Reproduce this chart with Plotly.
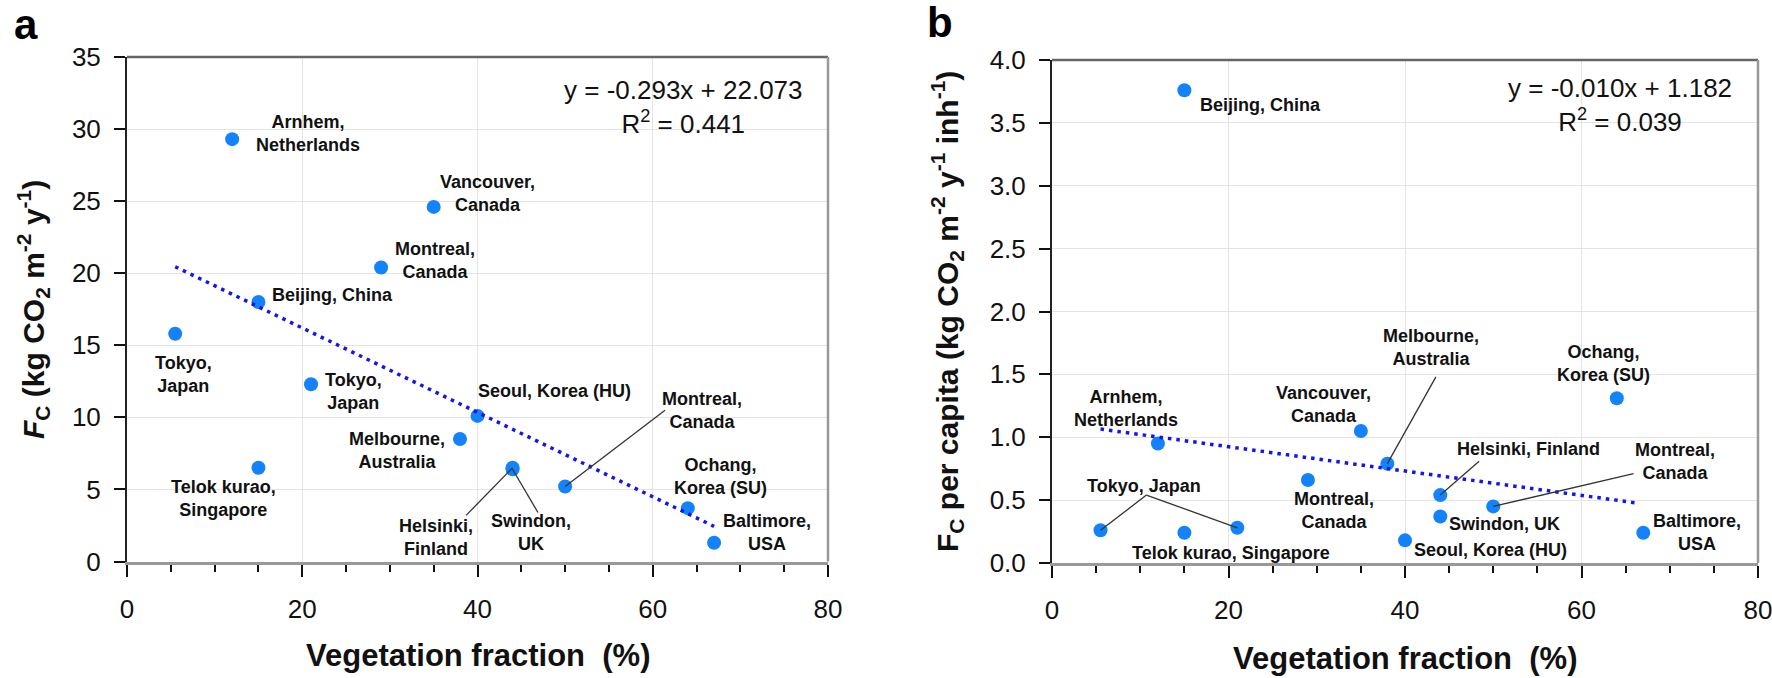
import plotly.graph_objects as go
from plotly.subplots import make_subplots

# panel a: total flux vs vegetation fraction
cities_a = ["Arnhem, Netherlands", "Vancouver, Canada", "Montreal, Canada", "Beijing, China",
            "Tokyo, Japan", "Tokyo, Japan", "Seoul, Korea (HU)", "Melbourne, Australia",
            "Telok kurao, Singapore", "Helsinki, Finland", "Swindon, UK", "Montreal, Canada",
            "Ochang, Korea (SU)", "Baltimore, USA"]
veg_a = [12, 35, 29, 15, 5.5, 21, 40, 38, 15, 44, 44, 50, 64, 67]
fc_a = [29.3, 24.6, 20.4, 18.0, 15.8, 12.3, 10.1, 8.5, 6.5, 6.5, 6.4, 5.2, 3.7, 1.3]
trend_x_a = [5.5, 67]
trend_y_a = [20.45, 2.44]
eq_a = "y = -0.293x + 22.073<br>R<sup>2</sup> = 0.441"

# panel b: per-capita flux vs vegetation fraction
cities_b = ["Beijing, China", "Ochang, Korea (SU)", "Vancouver, Canada", "Arnhem, Netherlands",
            "Melbourne, Australia", "Montreal, Canada", "Helsinki, Finland", "Montreal, Canada",
            "Swindon, UK", "Tokyo, Japan", "Telok kurao, Singapore", "Tokyo, Japan",
            "Seoul, Korea (HU)", "Baltimore, USA"]
veg_b = [15, 64, 35, 12, 38, 29, 44, 50, 44, 5.5, 15, 21, 40, 67]
fc_b = [3.76, 1.31, 1.05, 0.95, 0.79, 0.66, 0.54, 0.45, 0.37, 0.26, 0.24, 0.28, 0.18, 0.24]
trend_x_b = [5.5, 66.5]
trend_y_b = [1.065, 0.475]
eq_b = "y = -0.010x + 1.182<br>R<sup>2</sup> = 0.039"

FONT = "Liberation Sans, Arial, sans-serif"
DOT = "#1482fa"

W, H = 1772, 678
def px(p):
    return p / W
def py(p):
    return 1 - p / H

fig = make_subplots(rows=1, cols=2)

fig.add_trace(go.Scatter(x=veg_a, y=fc_a, mode="markers", text=cities_a,
                         marker=dict(size=14, color=DOT)), row=1, col=1)
fig.add_trace(go.Scatter(x=trend_x_a, y=trend_y_a, mode="lines",
                         line=dict(color="#1414f0", width=3.5, dash="3.5px,5px")), row=1, col=1)
fig.add_trace(go.Scatter(x=veg_b, y=fc_b, mode="markers", text=cities_b,
                         marker=dict(size=14, color=DOT)), row=1, col=2)
fig.add_trace(go.Scatter(x=trend_x_b, y=trend_y_b, mode="lines",
                         line=dict(color="#1414f0", width=3.5, dash="3.5px,5px")), row=1, col=2)

# label placement (layout only)
labels_a = [
    ("Arnhem,<br>Netherlands", 20.6, 29.7), ("Vancouver,<br>Canada", 41.1, 25.5),
    ("Montreal,<br>Canada", 35.1, 20.9), ("Beijing, China", 23.5, 18.5),
    ("Tokyo,<br>Japan", 6.4, 13.0), ("Tokyo,<br>Japan", 25.9, 11.8),
    ("Seoul, Korea (HU)", 48.8, 11.8), ("Melbourne,<br>Australia", 30.8, 7.7),
    ("Telok kurao,<br>Singapore", 11.0, 4.4), ("Montreal,<br>Canada", 65.6, 10.5),
    ("Ochang,<br>Korea (SU)", 67.7, 5.9), ("Helsinki,<br>Finland", 35.3, 1.7),
    ("Swindon,<br>UK", 46.1, 2.0), ("Baltimore,<br>USA", 73.0, 2.0),
]
labels_b = [
    ("Beijing, China", 23.6, 3.64), ("Melbourne,<br>Australia", 42.9, 1.71),
    ("Ochang,<br>Korea (SU)", 62.5, 1.59), ("Arnhem,<br>Netherlands", 8.4, 1.23),
    ("Vancouver,<br>Canada", 30.8, 1.26), ("Helsinki, Finland", 53.95, 0.91),
    ("Montreal,<br>Canada", 70.6, 0.81), ("Tokyo, Japan", 10.4, 0.61),
    ("Montreal,<br>Canada", 31.9, 0.42), ("Swindon, UK", 51.3, 0.31),
    ("Baltimore,<br>USA", 73.1, 0.24), ("Telok kurao, Singapore", 20.3, 0.08),
    ("Seoul, Korea (HU)", 49.7, 0.10),
]
for txt, lx, ly in labels_a:
    fig.add_annotation(x=lx, y=ly, xref="x", yref="y", text=txt, showarrow=False,
                       xanchor="center", yanchor="middle",
                       font=dict(family=FONT, size=18, color="#111", weight="bold"))
for txt, lx, ly in labels_b:
    fig.add_annotation(x=lx, y=ly, xref="x2", yref="y2", text=txt, showarrow=False,
                       xanchor="center", yanchor="middle",
                       font=dict(family=FONT, size=18, color="#111", weight="bold"))

# leader lines: (point index, label end x, label end y)
leaders_a = [(11, 61.4, 10.5), (9, 38.7, 3.2), (10, 46.9, 3.4)]
leaders_b = [(9, 10.7, 0.54), (11, 10.7, 0.54), (4, 43.5, 1.48), (6, 48.4, 0.81), (7, 65.9, 0.71)]
for i, ex, ey in leaders_a:
    fig.add_shape(type="line", xref="x", yref="y", x0=veg_a[i], y0=fc_a[i], x1=ex, y1=ey,
                  line=dict(color="#333", width=1.3))
for i, ex, ey in leaders_b:
    fig.add_shape(type="line", xref="x2", yref="y2", x0=veg_b[i], y0=fc_b[i], x1=ex, y1=ey,
                  line=dict(color="#333", width=1.3))

fig.add_annotation(x=63.5, y=31.55, xref="x", yref="y", text=eq_a, showarrow=False,
                   xanchor="center", yanchor="middle", font=dict(family=FONT, size=26, color="#111"))
fig.add_annotation(x=64.4, y=3.64, xref="x2", yref="y2", text=eq_b, showarrow=False,
                   xanchor="center", yanchor="middle", font=dict(family=FONT, size=26, color="#111"))

# frame top/right borders
for xr, yr in [("x", "y"), ("x2", "y2")]:
    fig.add_shape(type="line", xref=xr + " domain", yref=yr + " domain", x0=0, x1=1, y0=1, y1=1,
                  line=dict(color="#666", width=2.5))
    fig.add_shape(type="line", xref=xr + " domain", yref=yr + " domain", x0=1, x1=1, y0=0, y1=1,
                  line=dict(color="#999", width=2.5))

# panel letters and axis titles
def note(x, y, text, size, angle=0, color="#111"):
    fig.add_annotation(x=px(x), y=py(y), xref="paper", yref="paper", text=text, showarrow=False,
                       xanchor="center", yanchor="middle", textangle=angle,
                       font=dict(family=FONT, size=size, color=color, weight="bold"))

note(26, 24, "a", 42, color="#000")
note(940, 22, "b", 42, color="#000")
note(478, 655, "Vegetation fraction  (%)", 31)
note(1405, 658, "Vegetation fraction  (%)", 31)
note(33, 310, "<i>F</i><sub>C</sub> (kg CO<sub>2</sub> m<sup>-2</sup> y<sup>-1</sup>)", 30, angle=-90)
note(947, 312, "F<sub>C</sub> per capita (kg CO<sub>2</sub> m<sup>-2</sup> y<sup>-1</sup> inh<sup>-1</sup>)",
     30, angle=-90)

xax = dict(range=[0, 80], dtick=20, showgrid=True, gridcolor="#e4e4e4", gridwidth=1,
           showline=True, linecolor="#999", linewidth=3, zeroline=False, automargin=False,
           ticks="outside", ticklen=12, tickwidth=2, tickcolor="#111", ticklabeloverflow="allow",
           minor=dict(dtick=5, ticks="outside", ticklen=7, tickwidth=1.5, tickcolor="#111", showgrid=False),
           tickfont=dict(family=FONT, size=26, color="#111"), ticklabelstandoff=10)
yax = dict(showgrid=True, gridcolor="#e4e4e4", gridwidth=1, zeroline=False, automargin=False,
           showline=True, linecolor="#222", linewidth=2,
           ticks="outside", ticklen=11, tickwidth=2, tickcolor="#111",
           tickfont=dict(family=FONT, size=26, color="#111"), ticklabelstandoff=8)

fig.update_layout(
    width=W, height=H, margin=dict(l=0, r=0, t=0, b=0),
    paper_bgcolor="white", plot_bgcolor="white", showlegend=False,
    xaxis=dict(xax, domain=[px(127), px(828)]),
    xaxis2=dict(xax, domain=[px(1052), px(1758)]),
    yaxis=dict(yax, range=[0, 35], dtick=5, domain=[py(561.5), py(57)]),
    yaxis2=dict(yax, range=[0, 4], dtick=0.5, tickformat=".1f", domain=[py(563), py(60)]),
)

# drop the default page margin so the figure fills the window exactly
fig.write_html("out.html", config={"displayModeBar": False},
               post_script="document.body.style.margin='0';document.body.style.overflow='hidden';")
